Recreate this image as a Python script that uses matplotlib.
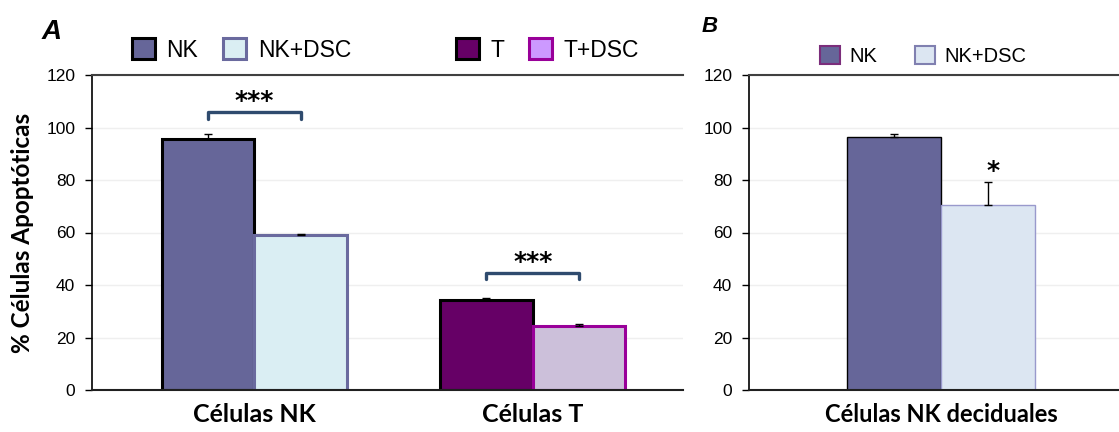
import numpy as np
import matplotlib.pyplot as plt
from matplotlib.patches import Patch

# data
groups_a = ['Células NK', 'Células T']
series_a = ['NK', 'NK+DSC', 'T', 'T+DSC']
values_a = [95.8, 59.2, 34.1, 24.2]
errors_a = [1.9, 0.3, 0.8, 1.1]
sig_a = ['***', '***']
sig_y_a = [106, 44.7]

groups_b = ['Células NK deciduales']
series_b = ['NK', 'NK+DSC']
values_b = [96.5, 70.6]
errors_b = [1.0, 8.8]
sig_b = ['', '*']

yticks = [0, 20, 40, 60, 80, 100, 120]

# styles
fill_a = ['#666699', '#DAEEF3', '#660066', '#CCC0DA']
edge_a = ['black', '#6A6A9E', 'black', '#990099']
legfill_a = ['#666699', '#DAEEF3', '#660066', '#CC99FF']
fill_b = ['#666699', '#DCE6F2']
edge_b = ['black', '#9999CC']
legedge_b = ['#7B2D7B', '#8080B0']

plt.rcParams['font.family'] = ['Liberation Sans', 'DejaVu Sans']
lab_font = ['Lato', 'DejaVu Sans']

fig = plt.figure(figsize=(11.19, 4.32), dpi=100)
axA = fig.add_axes([92/1119, 1-390/432, (683-92)/1119, (390-75)/432])
axB = fig.add_axes([749/1119, 1-390/432, (1119-749)/1119, (390-75)/432])


def style_axis(ax):
    ax.set_ylim(0, 120)
    ax.set_yticks(yticks)
    ax.tick_params(axis='y', length=5, width=1, labelsize=12.5, pad=7, direction='out')
    ax.tick_params(axis='x', length=0)
    ax.spines['right'].set_visible(False)
    ax.spines['top'].set_color('#404040')
    ax.spines['top'].set_linewidth(1.5)
    ax.spines['bottom'].set_color('#202020')
    ax.spines['bottom'].set_linewidth(1.5)
    ax.spines['left'].set_linewidth(1.2)
    ax.set_axisbelow(True)
    ax.yaxis.grid(True, color='#EFEFEF', linewidth=1)


# panel A
xa = np.array([g * 3 + o for g in range(len(groups_a)) for o in (-0.5, 0.5)])
axA.bar(xa, values_a, width=1.0, color=fill_a, edgecolor=edge_a, linewidth=2.2, zorder=2)
axA.errorbar(xa, values_a, yerr=[np.zeros(len(values_a)), errors_a], fmt='none',
             ecolor='black', elinewidth=1, capsize=3.2, capthick=1, zorder=3)
for i, (s, yb) in enumerate(zip(sig_a, sig_y_a)):
    x0, x1 = xa[2 * i], xa[2 * i + 1]
    axA.plot([x0, x0, x1, x1], [yb - 2.6, yb, yb, yb - 2.6], color='#2F4B6E', lw=2.4,
             solid_joinstyle='round', solid_capstyle='round', zorder=4)
    axA.text((x0 + x1) / 2, yb - 0.5, s, ha='center', va='bottom', fontsize=18,
             fontweight='bold', family='DejaVu Sans')
axA.set_xlim(-1.75, 4.62)
axA.set_xticks([g * 3 for g in range(len(groups_a))])
axA.set_xticklabels(groups_a, fontsize=18, fontweight='bold', family=lab_font)
style_axis(axA)
axA.tick_params(axis='x', pad=9)
axA.set_ylabel('% Células Apoptóticas', fontsize=17.5, fontweight='bold', family=lab_font, labelpad=9)

hA = [Patch(facecolor=f, edgecolor=e, linewidth=2.2) for f, e in zip(legfill_a, edge_a)]
kw = dict(frameon=False, ncol=2, fontsize=16.5, handlelength=1.0, handleheight=1.0,
          handletextpad=0.5, columnspacing=1.1, borderpad=0, borderaxespad=0, loc='center left')
fig.legend(hA[:2], series_a[:2], bbox_to_anchor=(132/1119, 1-50/432), **kw)
fig.legend(hA[2:], series_a[2:], bbox_to_anchor=(456/1119, 1-50/432), **kw)

# panel B
xb = np.array([-0.5, 0.5])
axB.bar(xb, values_b, width=1.0, color=fill_b, edgecolor=edge_b, linewidth=1, zorder=2)
axB.errorbar(xb, values_b, yerr=[np.zeros(len(values_b)), errors_b], fmt='none',
             ecolor='black', elinewidth=1, capsize=2.6, capthick=1, zorder=3)
for x, v, e, s in zip(xb, values_b, errors_b, sig_b):
    if s:
        axB.text(x + 0.05, v + e - 0.5, s, ha='center', va='bottom', fontsize=18,
                 fontweight='bold', family='DejaVu Sans')
axB.set_xlim(-2.04, 1.89)
axB.set_xticks([0])
axB.set_xticklabels(groups_b, fontsize=17, fontweight='bold', family=lab_font)
style_axis(axB)
axB.tick_params(axis='x', pad=9)

hB = [Patch(facecolor=f, edgecolor=e, linewidth=1.5) for f, e in zip(fill_b, legedge_b)]
fig.legend(hB, series_b, frameon=False, ncol=2, fontsize=14.5, handlelength=1.0, handleheight=1.0,
           handletextpad=0.45, columnspacing=1.9, borderpad=0, borderaxespad=0, loc='center left',
           bbox_to_anchor=(820/1119, 1-56/432))

# panel letters
fig.text(42/1119, 1-32/432, 'A', fontsize=20, fontweight='bold', fontstyle='italic', va='center')
fig.text(702/1119, 1-27/432, 'B', fontsize=16, fontweight='bold', fontstyle='italic', va='center')

fig.savefig('out.png', dpi=100)
